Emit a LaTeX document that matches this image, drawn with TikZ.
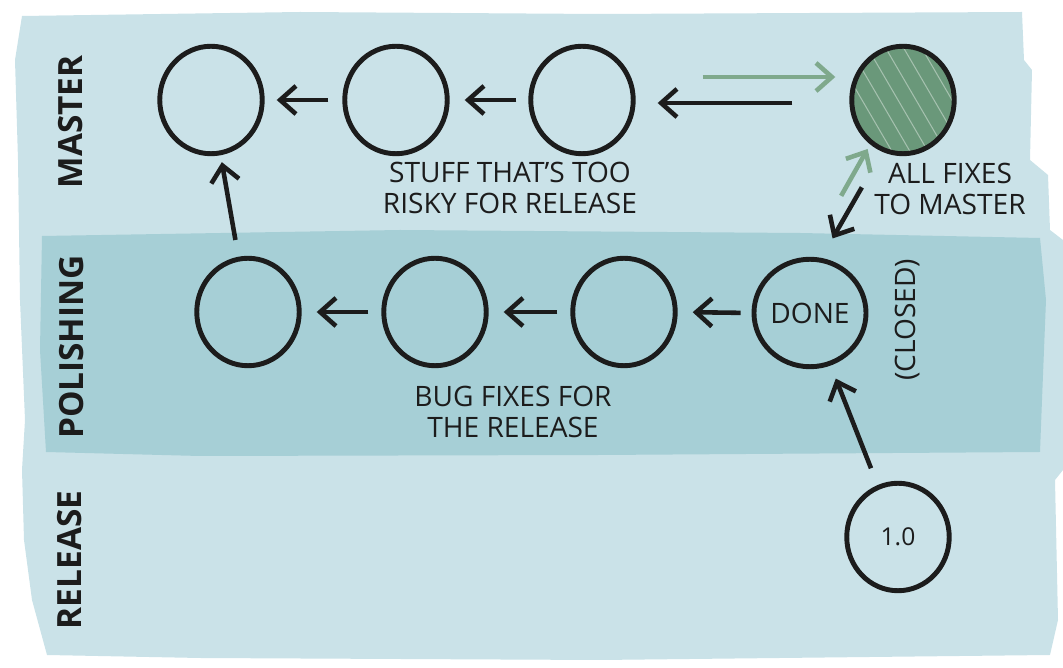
\documentclass[tikz,border=0pt]{standalone}
\usepackage{fontspec}
\setmainfont{Open Sans}
\usetikzlibrary{shapes.geometric,arrows.meta,calc}
\definecolor{paper}{HTML}{CAE2E8}
\definecolor{band}{HTML}{A6CFD6}
\definecolor{fixgreen}{HTML}{6A987A}
\definecolor{arrowgreen}{HTML}{7FA98C}
\definecolor{ink}{HTML}{1C1C1C}
\begin{document}
\begin{tikzpicture}[x=0.02cm, y=-0.02cm,
  commit/.style={ellipse, draw=ink, line width=2.8pt, minimum width=2.05cm,
    minimum height=2.15cm, inner sep=0pt, font=\fontsize{16}{16}\selectfont, text=ink},
  arr/.style={draw=ink, line width=2.6pt, -{Straight Barb[length=9pt,width=16pt]}},
  garr/.style={arr, draw=arrowgreen},
  lane/.style={rotate=90, text=ink, font=\fontsize{19}{19}\selectfont\bfseries},
  note/.style={align=center, text=ink, font=\fontsize{16}{17.6}\selectfont}]
\useasboundingbox (0,0) rectangle (1063,668);
% paper
\fill[paper] (22,16) -- (300,12) -- (600,14) -- (1022,12) -- (1024,60) -- (1032,70)
  -- (1030,160) -- (1048,175) -- (1050,230) -- (1063,240) -- (1063,470) -- (1055,480)
  -- (1058,620) -- (1050,655) -- (600,660) -- (200,658) -- (47,655) -- (32,600)
  -- (24,540) -- (22,470) -- (25,420) -- (20,300) -- (18,160) -- (15,60) -- cycle;
% polishing band
\fill[band] (42,236) -- (400,230) -- (800,233) -- (1040,238) -- (1046,300) -- (1042,400)
  -- (1040,452) -- (600,455) -- (200,456) -- (46,452) -- (40,350) -- cycle;
% lanes
\node[lane] (master) at (71,122) {MASTER};
\node[lane] (polishing) at (72,347) {POLISHING};
\node[lane] (release) at (70,560) {RELEASE};
% master commits
\node[commit] (m1) at (211,100) {};
\node[commit] (m2) at (396,100) {};
\node[commit] (m3) at (582,100) {};
\node[commit, fill=fixgreen,
  path picture={\foreach \d in {-90,-72,...,90}
    \draw[white, opacity=.4, line width=.6pt] (path picture bounding box.center)
      ++(\d-40,-60) -- ++(70,120);}] (m4) at (903,100) {};
% polishing commits
\node[commit] (p1) at (248,312) {};
\node[commit] (p2) at (435,312) {};
\node[commit] (p3) at (624,312) {};
\node[commit] (p4) at (810,313) {DONE};
% release
\node[commit, font=\fontsize{14}{14}\selectfont] (r1) at (898,537) {1.0};
% notes
\node[note] (risky) at (510,188) {STUFF THAT’S TOO\\RISKY FOR RELEASE};
\node[note] (bugfix) at (513,412) {BUG FIXES FOR\\THE RELEASE};
\node[note] (allfix) at (950,189) {ALL FIXES\\TO MASTER};
\node[note, rotate=90] (closed) at (908,320) {(CLOSED)};
% arrows on master
\draw[arr, shorten <=.28cm, shorten >=.24cm] (m2.west) -- (m1.east);
\draw[arr, shorten <=.24cm, shorten >=.3cm] (m3.west) -- (m2.east);
\draw[arr, shorten <=1.14cm, shorten >=.44cm] ([yshift=-.06cm]m4.west) -- ([yshift=-.06cm]m3.east);
\draw[garr, shorten <=1.34cm, shorten >=.28cm] ([yshift=.46cm]m3.east) -- ([yshift=.46cm]m4.west);
% arrows on polishing
\draw[arr, shorten <=.26cm, shorten >=.3cm] (p2.west) -- (p1.east);
\draw[arr, shorten <=.26cm, shorten >=.3cm] (p3.west) -- (p2.east);
\draw[arr, shorten <=.22cm, shorten >=.3cm] (p4.west) -- (p3.east);
% between lanes
\draw[arr, shorten <=.34cm, shorten >=.14cm] (p1) -- (m1);
\draw[arr, shorten <=.36cm, shorten >=.28cm] (r1) -- (p4);
\draw[garr] ($(p4)!0.55!(m4)+(-20,0)$) -- ($(p4)!0.77!(m4)+(-14,0)$);
\draw[arr] ($(p4)!0.59!(m4)+(-3,0)$) -- ($(p4)!0.35!(m4)+(-10,0)$);
\end{tikzpicture}
\end{document}
